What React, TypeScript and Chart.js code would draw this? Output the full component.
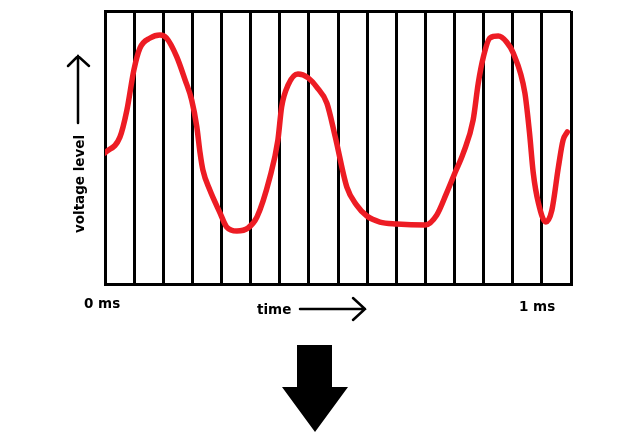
import React, { useEffect, useRef } from "react";
import { Chart, registerables } from "chart.js";

Chart.register(...registerables);

// time in ms
const timeMs = [
  0, 0.032, 0.047, 0.062, 0.075, 0.097, 0.118, 0.132, 0.154, 0.172, 0.186, 0.197, 0.204, 0.21,
  0.225, 0.247, 0.261, 0.283, 0.307, 0.326, 0.354, 0.371, 0.379, 0.393, 0.414, 0.436, 0.454,
  0.476, 0.494, 0.519, 0.54, 0.562, 0.59, 0.626, 0.687, 0.712, 0.733, 0.749, 0.769, 0.79, 0.801,
  0.812, 0.826, 0.844, 0.862, 0.876, 0.901, 0.911, 0.919, 0.93, 0.946, 0.959, 0.973, 0.983, 0.992,
];
// voltage level (arbitrary units 0..10)
const voltage = [
  4.8, 5.38, 6.37, 7.84, 8.64, 9.01, 9.12, 9.01, 8.32, 7.47, 6.74, 5.76, 4.8, 4.18,
  3.44, 2.6, 2.09, 1.94, 2.05, 2.45, 3.92, 5.27, 6.48, 7.29, 7.69, 7.55, 7.22,
  6.63, 5.4, 3.55, 2.89, 2.49, 2.27, 2.2, 2.16, 2.53, 3.33, 3.99, 4.8, 6.01, 7.36,
  8.32, 9.01, 9.08, 8.86, 8.46, 7.0, 5.53, 4.07, 2.97, 2.27, 2.71, 4.29, 5.27, 5.57,
];
const startLabel = "0 ms";
const endLabel = "1 ms";
const xTitle = "time";
const yTitle = "voltage level";

const FONT = "bold 13.5px 'DejaVu Sans'";

const annotations = {
  id: "annotations",
  afterDraw(chart: any) {
    const ctx = chart.ctx as CanvasRenderingContext2D;
    ctx.save();
    ctx.fillStyle = "#000";
    ctx.strokeStyle = "#000";
    ctx.font = FONT;
    ctx.textBaseline = "alphabetic";
    ctx.textAlign = "left";
    ctx.fillText(startLabel, 84, 308);
    ctx.fillText(endLabel, 519, 311);
    ctx.fillText(xTitle, 257, 314);

    // time arrow
    ctx.lineWidth = 2.5;
    ctx.lineCap = "round";
    ctx.beginPath();
    ctx.moveTo(300, 309);
    ctx.lineTo(365, 309);
    ctx.moveTo(353, 298);
    ctx.lineTo(365, 309);
    ctx.lineTo(353, 320);
    ctx.stroke();

    // voltage label
    ctx.save();
    ctx.translate(84, 184);
    ctx.rotate(-Math.PI / 2);
    ctx.textAlign = "center";
    ctx.fillText(yTitle, 0, 0);
    ctx.restore();

    // voltage arrow
    ctx.beginPath();
    ctx.moveTo(78, 123);
    ctx.lineTo(78, 56);
    ctx.moveTo(68, 66);
    ctx.lineTo(78, 56);
    ctx.lineTo(89, 66);
    ctx.stroke();

    // big down arrow
    ctx.beginPath();
    ctx.moveTo(297, 345);
    ctx.lineTo(332, 345);
    ctx.lineTo(332, 387);
    ctx.lineTo(348, 387);
    ctx.lineTo(315, 432);
    ctx.lineTo(282, 387);
    ctx.lineTo(297, 387);
    ctx.closePath();
    ctx.fill();
    ctx.restore();
  },
};

export default function App() {
  const ref = useRef<HTMLCanvasElement | null>(null);
  useEffect(() => {
    if (!ref.current) return;
    const chart = new Chart(ref.current, {
      type: "line",
      data: {
        datasets: [
          {
            data: timeMs.map((t, i) => ({ x: t, y: voltage[i] })),
            borderColor: "#ED1C24",
            borderWidth: 5.5,
            pointRadius: 0,
            cubicInterpolationMode: "monotone",
            borderCapStyle: "round",
            borderJoinStyle: "round",
            fill: false,
          },
        ],
      },
      options: {
        animation: false,
        responsive: true,
        maintainAspectRatio: false,
        layout: { padding: { left: 105, top: 11, right: 49, bottom: 157 } },
        plugins: { legend: { display: false }, tooltip: { enabled: false } },
        scales: {
          x: {
            type: "linear",
            min: 0,
            max: 1,
            ticks: { display: false, stepSize: 0.0625 },
            grid: { color: "#000", lineWidth: 3, drawTicks: false },
            border: { display: true, color: "#000", width: 3 },
          },
          y: {
            min: 0,
            max: 10,
            ticks: { display: false, stepSize: 10 },
            grid: { color: "#000", lineWidth: 3, drawTicks: false },
            border: { display: true, color: "#000", width: 3 },
          },
        },
      },
      plugins: [annotations],
    });
    return () => chart.destroy();
  }, []);
  return (
    <div style={{ position: "absolute", left: 0, top: 0, width: 620, height: 441, background: "#fff" }}>
      <canvas ref={ref} />
    </div>
  );
}
